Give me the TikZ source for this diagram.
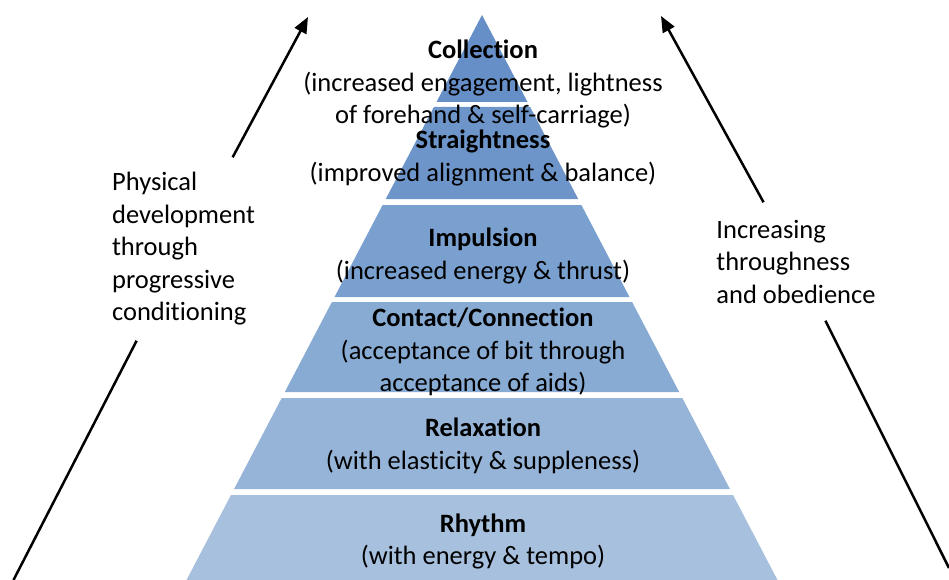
\documentclass[tikz,border=0pt]{standalone}
\usepackage{fontspec}
\setmainfont{Carlito}[Ligatures=NoCommon]
\usetikzlibrary{arrows.meta}
\definecolor{lay1}{RGB}{103,143,199}
\definecolor{lay2}{RGB}{109,149,202}
\definecolor{lay3}{RGB}{122,160,207}
\definecolor{lay4}{RGB}{136,171,212}
\definecolor{lay5}{RGB}{150,180,216}
\definecolor{lay6}{RGB}{167,192,222}
\newcommand\pyrlayer[3]{\fill[#3] ({482-0.523*(#1-15)},#1) -- ({482+0.523*(#1-15)},#1) -- ({482+0.523*(#2-15)},#2) -- ({482-0.523*(#2-15)},#2) -- cycle;}
\begin{document}
\begin{tikzpicture}[x=1pt,y=-1pt,
  laytext/.style={align=center, inner sep=0pt, font=\fontsize{26.5}{32.5}\selectfont},
  sidetext/.style={align=left, inner xsep=0pt, inner ysep=0pt, font=\fontsize{26.5}{32.5}\selectfont},
  arr/.style={line width=2.5pt, -{Triangle[length=16pt,width=13pt]}},
  seg/.style={line width=2.5pt}]
\useasboundingbox (0,0) rectangle (949,580);
\clip (0,0) rectangle (949,580);
% pyramid
\fill[lay1] (482,15) -- ({482+0.523*87},102) -- ({482-0.523*87},102) -- cycle;
\pyrlayer{107}{199}{lay2}
\pyrlayer{205}{297}{lay3}
\pyrlayer{302}{392}{lay4}
\pyrlayer{398}{489}{lay5}
\pyrlayer{495}{610}{lay6}
% layer texts
\node[laytext] (collection) at (483,84) {\textbf{Collection}\\(increased engagement, lightness\\of forehand \& self-carriage)};
\node[laytext] (straight) at (483,158) {\textbf{Straightness}\\(improved alignment \& balance)};
\node[laytext] (impulsion) at (483,256) {\textbf{Impulsion}\\(increased energy \& thrust)};
\node[laytext] (contact) at (483,352) {\textbf{Contact/Connection}\\(acceptance of bit through\\acceptance of aids)};
\node[laytext] (relax) at (483,446) {\textbf{Relaxation}\\(with elasticity \& suppleness)};
\node[laytext] (rhythm) at (483,541.5) {\textbf{Rhythm}\\(with energy \& tempo)};
% side texts
\node[sidetext, minimum height=183pt] (ltext) at (183.5,249) {Physical\\development\\through\\progressive\\conditioning};
\node[sidetext, minimum height=118pt] (rtext) at (796,261.5) {Increasing\\throughness\\and obedience};
% arrows
\coordinate (lbot) at (13.5,580);
\coordinate (ltip) at (308,17);
\coordinate (rbot) at (949,568);
\coordinate (rtip) at (661,16);
\draw[seg] (lbot) -- (ltext);
\draw[arr] (ltext) -- (ltip);
\draw[seg] (rbot) -- (rtext);
\draw[arr] (rtext) -- (rtip);
\end{tikzpicture}
\end{document}
